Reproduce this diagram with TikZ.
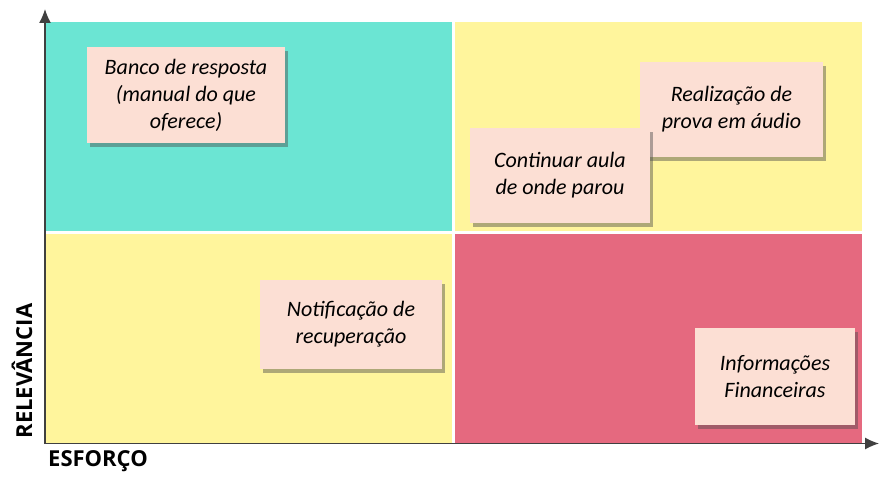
\documentclass[tikz,border=0pt]{standalone}
\usepackage{fontspec}
\setmainfont{Carlito}
\newfontfamily\notefont{Carlito}
\newfontfamily\axisfont{Open Sans}
\usetikzlibrary{arrows.meta,shadows}
\definecolor{quadteal}{HTML}{6BE5D3}
\definecolor{quadyellow}{HTML}{FFF59C}
\definecolor{quadred}{HTML}{E5697F}
\definecolor{notepink}{HTML}{FCDFD4}
\begin{document}
\begin{tikzpicture}[x=1pt, y=-1pt,
    quad/.style = {inner sep=0pt, anchor=center},
    note/.style = {fill=notepink, align=center, inner sep=0pt,
      font=\notefont\itshape\fontsize{22}{27}\selectfont,
      drop shadow={shadow xshift=3pt, shadow yshift=-4pt, opacity=0.45, fill=black!70}},
    axis/.style = {draw=black!75, line width=1.2pt, -{Latex[length=14pt,width=12pt]}}]
	\useasboundingbox (0,0) rectangle (885,487);
	% quadrants
	\node[quad, fill=quadteal, minimum width=406pt, minimum height=209pt] (tl) at (249,126.5) {};
	\node[quad, fill=quadyellow, minimum width=407pt, minimum height=209pt] (tr) at (658.5,126.5) {};
	\node[quad, fill=quadyellow, minimum width=406pt, minimum height=209pt] (bl) at (249,338.5) {};
	\node[quad, fill=quadred, minimum width=407pt, minimum height=209pt] (br) at (658.5,338.5) {};
	% axes
	\coordinate (o) at (45,443.5);
	\coordinate (ytip) at (45,9);
	\coordinate (xtip) at (879,443.5);
	\draw[axis] (o) -- (ytip);
	\draw[axis] (o) -- (xtip);
	\node[font=\axisfont\bfseries\fontsize{22}{24}\selectfont, rotate=90] (rel) at (22,371) {RELEVÂNCIA};
	\node[font=\axisfont\bfseries\fontsize{22}{24}\selectfont] (esf) at (98,461) {ESFORÇO};
	% notes
	\node[note, minimum width=198pt, minimum height=96pt] (banco) at (186,95) {Banco de resposta\\(manual do que\\oferece)};
	\node[note, minimum width=183pt, minimum height=95pt] (prova) at (731.5,109.5) {Realização de\\prova em áudio};
	\node[note, minimum width=180pt, minimum height=95pt] (aula) at (560,175.5) {Continuar aula\\de onde parou};
	\node[note, minimum width=182pt, minimum height=89pt] (recup) at (351,324.5) {Notificação de\\recuperação};
	\node[note, minimum width=160pt, minimum height=97pt] (fin) at (775,376.5) {Informações\\Financeiras};
\end{tikzpicture}
\end{document}
